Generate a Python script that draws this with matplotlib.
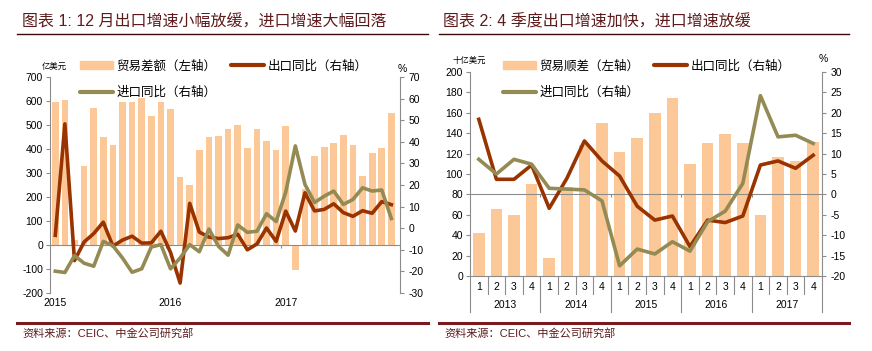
import numpy as np
import matplotlib
matplotlib.use('Agg')
import matplotlib.pyplot as plt
import matplotlib.transforms as mtransforms
from matplotlib.patches import Patch
from matplotlib.lines import Line2D

plt.rcParams['font.family'] = ['Liberation Sans', 'Noto Sans CJK SC']
plt.rcParams['axes.unicode_minus'] = False

# chart 1: monthly, Jan 2015 - Dec 2017
years_m = ['2015', '2016', '2017']
balance_m = [595, 605, 22, 330, 570, 451, 418, 597, 595, 612, 539, 597,
             567, 282, 250, 397, 449, 455, 485, 501, 404, 483, 432, 396,
             497, -104, 233, 372, 407, 424, 460, 417, 286, 383, 403, 549]
export_m = [-3.3, 48.3, -15.0, -6.4, -2.5, 2.8, -8.3, -5.5, -3.7, -6.9, -6.8, -1.4,
            -11.2, -25.4, 11.5, -1.8, -4.1, -4.8, -4.4, -2.8, -10.0, -7.3, 0.1, -6.1,
            7.9, -1.3, 16.4, 8.0, 8.7, 11.3, 7.2, 5.5, 8.1, 6.9, 12.3, 10.9]
import_m = [-19.9, -20.5, -12.7, -16.2, -17.6, -6.1, -8.1, -13.8, -20.4, -18.8, -8.7, -7.6,
            -18.8, -13.8, -7.6, -10.9, -0.4, -8.4, -12.5, 1.5, -1.9, -1.4, 6.7, 3.1,
            16.7, 38.1, 20.3, 11.9, 14.8, 17.2, 11.0, 13.3, 18.7, 17.2, 17.7, 4.5]

# chart 2: quarterly, 2013Q1 - 2017Q4
years_q = ['2013', '2014', '2015', '2016', '2017']
quarters = ['1', '2', '3', '4']
balance_q = [42, 66, 60, 90, 17.6, 87, 128, 150, 122, 135,
             160, 175, 110, 130, 139, 130, 60, 117, 113, 131]
export_q = [18.4, 3.7, 3.7, 7.2, -3.4, 3.9, 13.1, 8.2, 4.5, -2.9,
            -6.3, -5.3, -12.8, -6.3, -6.9, -5.3, 7.2, 8.2, 6.4, 9.6]
import_q = [8.6, 5.0, 8.6, 7.4, 1.5, 1.3, 1.1, -1.6, -17.5, -13.4,
            -14.6, -11.6, -13.9, -6.7, -4.1, 2.7, 24.2, 14.1, 14.5, 12.5]

W, H = 872, 351
BAR = '#FDC898'
EXP = '#993300'
IMP = '#948A54'
GRID = '#8C8C8C'
TITLE = '#5E1B1B'
RULE = '#7A1A1E'
FS = 7.5


def fx(x):
    return x / W


def fy(y):
    return 1 - y / H


fig = plt.figure(figsize=(W / 100, H / 100), dpi=100)

# ---- chart 1 ----
ax1 = fig.add_axes([fx(50), fy(293), 350 / W, 216 / H])
x1 = np.arange(len(balance_m))
ax1.bar(x1, balance_m, width=0.7, color=BAR)
ax1.set_xlim(-0.55, 35.9)
ax1.set_ylim(-200, 700)
ax1.set_yticks(range(-200, 701, 100))
ax1.axhline(0, color=GRID, lw=0.8)
ax1.vlines([11.5, 23.5], -12, 0, color=GRID, lw=0.8)
ax1.set_xticks([])
blend1 = mtransforms.blended_transform_factory(ax1.transData, ax1.transAxes)
for k, yr in enumerate(years_m):
    ax1.text(k * 12, -0.046, yr, transform=blend1, ha='center', va='center', fontsize=FS)

ax1r = ax1.twinx()
ax1r.plot(x1, export_m, color=EXP, lw=2.6)
ax1r.plot(x1, import_m, color=IMP, lw=2.6)
ax1r.set_ylim(-30, 70)
ax1r.set_yticks(range(-30, 71, 10))

# ---- chart 2 ----
ax2 = fig.add_axes([fx(470), fy(276), 352 / W, 204 / H])
x2 = np.arange(len(balance_q))
ax2.bar(x2, balance_q, width=0.65, color=BAR)
ax2.set_xlim(-0.5, 19.5)
ax2.set_ylim(0, 200)
ax2.set_yticks(range(0, 201, 20))
ax2.set_xticks([])
blend2 = mtransforms.blended_transform_factory(ax2.transData, ax2.transAxes)
for i in range(len(balance_q)):
    ax2.text(i, -0.054, quarters[i % 4], transform=blend2, ha='center', va='center', fontsize=FS)
for k, yr in enumerate(years_q):
    ax2.text(k * 4 + 1.5, -0.142, yr, transform=blend2, ha='center', va='center', fontsize=FS)
for b in np.arange(-0.5, 20, 1.0):
    L = 0.176 if (b + 0.5) % 4 == 0 else 0.088
    ax2.plot([b, b], [0, -L], transform=blend2, color=GRID, lw=0.8, clip_on=False)

ax2r = ax2.twinx()
ax2r.axhline(0, color=GRID, lw=0.8)
ax2r.vlines([3.5, 7.5, 11.5, 15.5], -0.7, 0, color=GRID, lw=0.8)
ax2r.plot(x2, export_q, color=EXP, lw=2.6)
ax2r.plot(x2, import_q, color=IMP, lw=2.6)
ax2r.set_ylim(-20, 30)
ax2r.set_yticks(range(-20, 31, 5))

# spines / ticks
for a in (ax1, ax2):
    for s in ('top', 'right'):
        a.spines[s].set_visible(False)
    a.spines['left'].set_color(GRID)
    a.tick_params(axis='y', direction='out', length=3, color=GRID, labelsize=FS, pad=2)
ax1.spines['bottom'].set_visible(False)
ax2.spines['bottom'].set_color(GRID)
ax2.spines['bottom'].set_linewidth(0.8)
for a in (ax1r, ax2r):
    for s in ('top', 'left', 'bottom'):
        a.spines[s].set_visible(False)
    a.spines['right'].set_color(GRID)
    a.tick_params(axis='y', direction='out', length=3, color=GRID, labelsize=FS, pad=3)

# unit labels
fig.text(fx(54), fy(67), '亿美元', ha='center', va='center', fontsize=6)
fig.text(fx(402), fy(69), '%', ha='center', va='center', fontsize=FS)
fig.text(fx(469), fy(61), '十亿美元', ha='center', va='center', fontsize=6)
fig.text(fx(823), fy(59), '%', ha='center', va='center', fontsize=FS)

# legends
def make_legend(bar_label, x0):
    handles = [Patch(color=BAR),
               Line2D([], [], color=IMP, lw=3, solid_capstyle='round'),
               Line2D([], [], color=EXP, lw=3, solid_capstyle='round')]
    labels = [bar_label, '进口同比（右轴）', '出口同比（右轴）']
    fig.legend(handles, labels, ncol=2, loc='upper left',
               bbox_to_anchor=(fx(x0), fy(60)), frameon=False, borderpad=0,
               borderaxespad=0, handlelength=2.6, handletextpad=0.3,
               columnspacing=1.2, labelspacing=1.15, fontsize=9)


make_legend('贸易差额（左轴）', 80)
make_legend('贸易顺差（左轴）', 503)

# titles, rules, sources
fig.text(fx(22), fy(22), '图表 1: 12 月出口增速小幅放缓，进口增速大幅回落',
         color=TITLE, fontsize=11.5, ha='left', va='center')
fig.text(fx(443), fy(22), '图表 2: 4 季度出口增速加快，进口增速放缓',
         color=TITLE, fontsize=11.5, ha='left', va='center')
for xa, xb in ((17, 428), (439, 849)):
    fig.add_artist(Line2D([fx(xa), fx(xb)], [fy(34), fy(34)], color='#3D0A0A',
                          lw=1.0, transform=fig.transFigure))
    fig.add_artist(Line2D([fx(xa), fx(xb)], [fy(322.7), fy(322.7)], color=RULE,
                          lw=2.2, transform=fig.transFigure))
    fig.text(fx(xa + 5), fy(333), '资料来源：CEIC、中金公司研究部',
             color=TITLE, fontsize=8, ha='left', va='center')

fig.savefig('out.png', dpi=100)
